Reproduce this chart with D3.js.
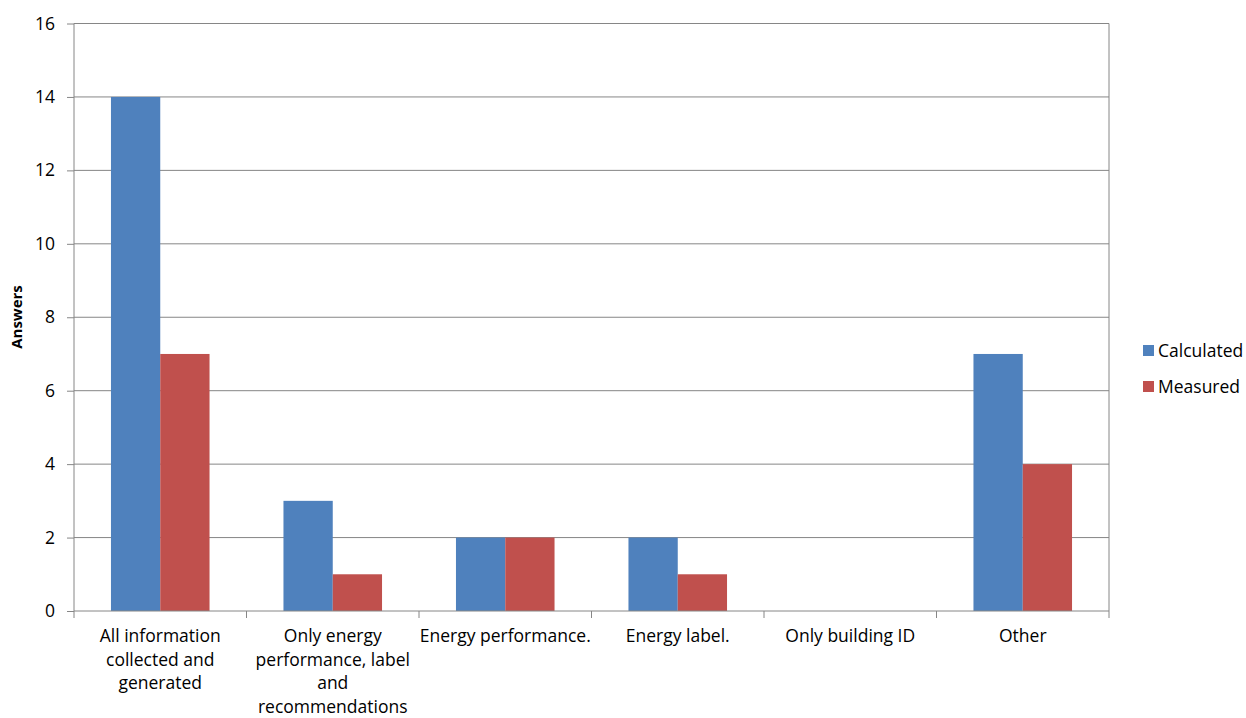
<!DOCTYPE html>
<html><head><meta charset="utf-8">
<script src="https://cdn.jsdelivr.net/npm/d3@7"></script>
<style>body{margin:0;background:#fff}svg{display:block}text{font-family:"Open Sans",sans-serif;fill:#000}</style>
</head><body><svg id="c" width="1246" height="718"></svg>
<script>
const categories = [
  ["All information","collected and","generated"],
  ["Only energy","performance, label","and","recommendations"],
  ["Energy performance."],
  ["Energy label."],
  ["Only building ID"],
  ["Other"]
];
const seriesNames = ["Calculated","Measured"];
const calculated = [14,3,2,2,0,7];
const measured = [7,1,2,1,0,4];
const yTicks = [0,2,4,6,8,10,12,14,16];
const colors = ["#4F81BD","#C0504D"];

const svg = d3.select("#c");
const L=74, R=1109, T=23.5, B=611;
const FONT = '"Open Sans",sans-serif';
const FS = 17.5;
const x = d3.scaleBand().domain(d3.range(categories.length)).range([L,R]);
const y = d3.scaleLinear().domain([0,16]).range([B,T]);

// gridlines
svg.append("g").selectAll("line").data(yTicks.filter(d=>d>0)).join("line")
  .attr("x1",L).attr("x2",R).attr("y1",d=>y(d)).attr("y2",d=>y(d))
  .attr("stroke","#868686").attr("stroke-width",1);
// right border
svg.append("line").attr("x1",R).attr("x2",R).attr("y1",T).attr("y2",B).attr("stroke","#868686");

const data = [calculated, measured];
const bw = x.bandwidth()/3.5;
data.forEach((vals,si)=>{
  svg.append("g").selectAll("rect").data(vals).join("rect")
    .attr("x",(d,i)=>x(i)+x.bandwidth()/2 - bw + si*bw)
    .attr("width",bw)
    .attr("y",d=>y(d)).attr("height",d=>B-y(d))
    .attr("fill",colors[si]);
});

// y axis
const ya = svg.append("g").attr("transform",`translate(${L},0)`)
  .call(d3.axisLeft(y).tickValues(yTicks).tickSize(7).tickPadding(12));
ya.select(".domain").attr("stroke","#868686").attr("d",`M0,${T}V${B}`);
ya.selectAll(".tick line").attr("stroke","#868686");
ya.selectAll("text").attr("font-size",FS).attr("font-family",FONT).attr("fill","#000");

// x axis
const xa = svg.append("g").attr("transform",`translate(0,${B})`);
xa.append("line").attr("x1",L).attr("x2",R).attr("stroke","#868686");
const bounds = d3.range(categories.length+1).map(i=>L+i*x.step());
xa.selectAll("line.t").data(bounds).join("line").attr("class","t")
  .attr("x1",d=>d).attr("x2",d=>d).attr("y1",0).attr("y2",7).attr("stroke","#868686");
categories.forEach((lines,i)=>{
  const t = xa.append("text").attr("text-anchor","middle").attr("font-size",FS)
    .attr("x",x(i)+x.bandwidth()/2);
  lines.forEach((ln,j)=>t.append("tspan").attr("x",x(i)+x.bandwidth()/2).attr("y",31+j*23.5).text(ln));
});

// y title
svg.append("text").attr("transform","translate(22,317) rotate(-90)").attr("text-anchor","middle")
  .attr("font-size",15).attr("font-weight","bold").text("Answers");

// legend
seriesNames.forEach((n,i)=>{
  const g = svg.append("g").attr("transform",`translate(1143,${345+i*36})`);
  g.append("rect").attr("width",11).attr("height",11).attr("fill",colors[i]);
  g.append("text").attr("x",15).attr("y",11.5).attr("font-size",FS).text(n);
});
</script></body></html>
